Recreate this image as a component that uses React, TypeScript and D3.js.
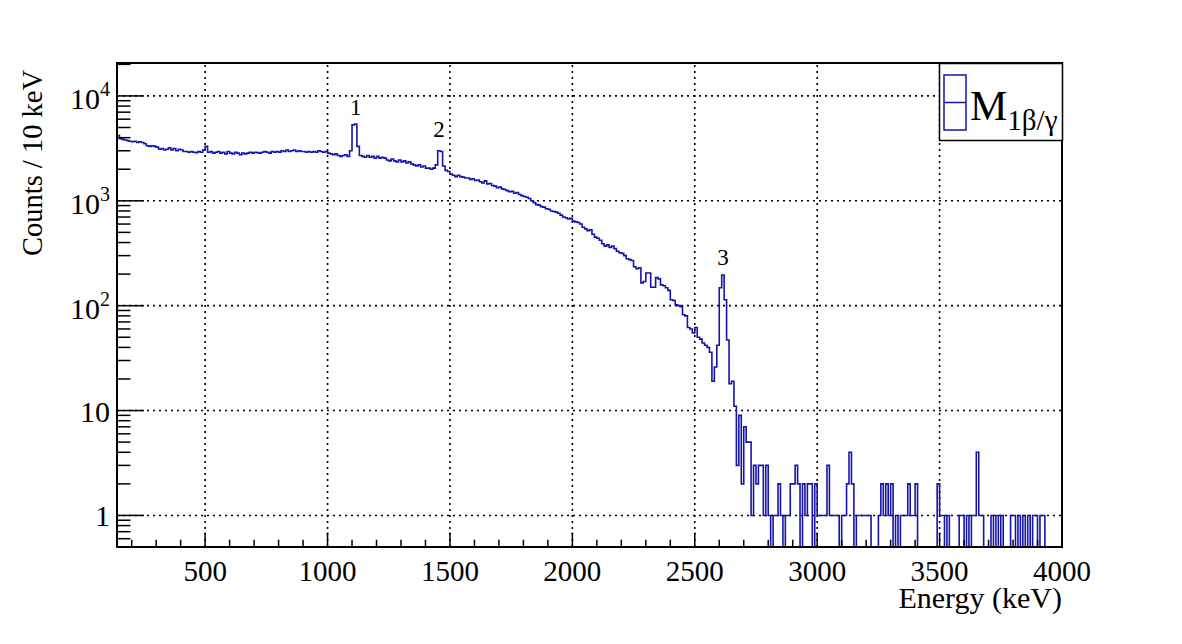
import { useEffect, useRef } from 'react';
import * as d3 from 'd3';

// histogram binning (keV)
const binStart = 140;
const binWidth = 10;

// counts per 10 keV bin, 140–1090 keV
const countsLow = [
  4200, 3900, 3850, 3800, 3750, 3700, 3650, 3700, 3600, 3650,
  3600, 3500, 3350, 3300, 3350, 3300, 3250, 3100, 3150, 3050,
  3100, 3200, 3050, 3150, 3000, 3100, 3050, 2950, 2950, 2900,
  2950, 2900, 2880, 2950, 2900, 3050, 3300, 2900, 2950, 2850,
  2900, 2950, 2850, 2900, 2800, 2950, 2850, 2800, 2900, 2850,
  2750, 2850, 2800, 2850, 2900, 2850, 2900, 2880, 2850, 2900,
  2950, 2900, 2850, 2950, 2900, 2950, 2900, 3000, 2950, 3050,
  2950, 3000, 3050, 2950, 3000, 2950, 2950, 2900, 2950, 2900,
  2950, 2900, 3000, 2950, 2900, 2950, 2850, 2800, 2750, 2800,
  2700, 2650, 2700, 2750, 2650, 3000,
];

// 1100–2090 keV
const countsMid = [
  5300, 5400, 3300, 2700, 2650, 2600, 2700, 2600, 2650, 2550,
  2650, 2550, 2600, 2550, 2450, 2400, 2500, 2400, 2350, 2450,
  2350, 2400, 2300, 2350, 2250, 2200, 2150, 2200, 2100, 2150,
  2050, 2050, 2000, 2050, 2200, 3000, 2950, 2150, 1950, 1900,
  1800, 1750, 1700, 1750, 1700, 1680, 1650, 1650, 1600, 1620,
  1560, 1580, 1520, 1480, 1550, 1450, 1460, 1400, 1380, 1330,
  1350, 1300, 1280, 1250, 1220, 1230, 1180, 1200, 1150, 1120,
  1100, 1080, 1050, 1000, 960, 920, 910, 880, 870, 840,
  830, 800, 790, 780, 760, 730, 700, 690, 670, 680,
  640, 630, 620, 600, 560, 540, 520, 530, 480, 450,
];

// 2100–2790 keV
const countsHigh = [
  440, 420, 390, 370, 380, 360, 370, 350, 330, 320,
  315, 300, 280, 275, 270, 235, 225, 230, 165, 170,
  205, 205, 150, 150, 185, 180, 158, 155, 148, 140,
  114, 112, 102, 100, 98, 82, 80, 62, 60, 55,
  62, 50, 48, 44, 42, 40, 36, 19, 26, 42,
  148, 196, 114, 47, 18, 19, 11, 3, 9, 2,
  7, 5, 5, 1, 3, 2, 3, 3, 1, 3,
];

// 2800–3990 keV
const countsTail = [
  1, 0, 1, 1, 2, 1, 0, 1, 1, 2,
  2, 3, 2, 0, 2, 1, 2, 2, 0, 2,
  1, 1, 1, 1, 3, 1, 1, 1, 1, 0,
  1, 1, 2, 4, 2, 0, 1, 1, 1, 1,
  1, 1, 0, 0, 0, 1, 2, 1, 2, 1,
  2, 0, 1, 0, 1, 1, 1, 2, 1, 1,
  2, 0, 0, 0, 0, 0, 0, 0, 0, 2,
  1, 1, 0, 1, 0, 0, 0, 0, 1, 1,
  0, 1, 0, 1, 1, 4, 1, 1, 0, 0,
  0, 1, 0, 1, 0, 1, 0, 0, 0, 1,
  1, 0, 1, 0, 1, 0, 1, 0, 1, 1,
  0, 1, 1, 0, 0, 0, 0, 0, 0, 0,
];

const xTicks = [500, 1000, 1500, 2000, 2500, 3000, 3500, 4000];
const yTicks = [1, 10, 100, 1000, 10000];
const yTickBase = ['1', '10', '10', '10', '10'];
const yTickExp = ['', '', '2', '3', '4'];

const peakLabels = ['1', '2', '3'];
const peakEnergy = [1115, 1455, 2615];
const peakLabelCounts = [6600, 4100, 245];

const W = 1182;
const H = 644;
const FONT = "'Liberation Serif', 'Times New Roman', serif";
const BLUE = '#1414ad';

const App = () => {
  const svgRef = useRef<SVGSVGElement>(null);

  useEffect(() => {
    if (!svgRef.current) return;
    const svg = d3.select(svgRef.current);
    svg.selectAll('*').remove();

    const margin = { top: 63, right: 120, bottom: 97, left: 117 };
    const x0 = margin.left;
    const x1 = W - margin.right;
    const y0 = H - margin.bottom;
    const y1 = margin.top;

    const counts = [...countsLow, ...countsMid, ...countsHigh, ...countsTail];

    const x = d3.scaleLinear().domain([binStart, 4000]).range([x0, x1]);
    const y = d3.scaleLog().domain([0.5, 20600]).range([y0, y1]);
    const yv = (c: number) => y(Math.max(c, 0.5));

    svg.append('rect').attr('width', W).attr('height', H).attr('fill', '#fff');

    // grid
    const grid = svg.append('g').attr('stroke', '#000').attr('stroke-width', 1.6)
      .attr('stroke-dasharray', '2,4');
    xTicks.filter(t => t < 4000).forEach(t => {
      grid.append('line').attr('x1', x(t)).attr('x2', x(t)).attr('y1', y0).attr('y2', y1);
    });
    yTicks.forEach(t => {
      grid.append('line').attr('x1', x0).attr('x2', x1).attr('y1', y(t)).attr('y2', y(t));
    });

    // histogram outline
    svg.append('clipPath').attr('id', 'frame-clip')
      .append('rect').attr('x', x0).attr('y', y1).attr('width', x1 - x0).attr('height', y0 - y1);
    let d = `M${x(binStart)},${yv(counts[0])}`;
    counts.forEach((c, i) => {
      const e1 = binStart + (i + 1) * binWidth;
      d += `H${x(e1)}`;
      if (i < counts.length - 1) d += `V${yv(counts[i + 1])}`;
    });
    svg.append('path').attr('d', d).attr('fill', 'none').attr('stroke', BLUE)
      .attr('stroke-width', 1.6).attr('clip-path', 'url(#frame-clip)');

    // frame
    svg.append('rect').attr('x', x0).attr('y', y1).attr('width', x1 - x0).attr('height', y0 - y1)
      .attr('fill', 'none').attr('stroke', '#000').attr('stroke-width', 2);

    // ticks
    const ticks = svg.append('g').attr('stroke', '#000').attr('stroke-width', 1.5);
    for (let t = 200; t < 4000; t += 100) {
      const len = t % 500 === 0 ? 14.5 : 7.3;
      ticks.append('line').attr('x1', x(t)).attr('x2', x(t)).attr('y1', y0).attr('y2', y0 - len);
    }
    const yMinor: number[] = [];
    for (let dec = -1; dec <= 4; dec++) {
      for (let k = 2; k <= 9; k++) {
        const v = k * Math.pow(10, dec);
        if (v > 0.5 && v < 20600) yMinor.push(v);
      }
    }
    yMinor.forEach(v => {
      ticks.append('line').attr('x1', x0).attr('x2', x0 + 13.5).attr('y1', y(v)).attr('y2', y(v));
    });
    yTicks.forEach(v => {
      ticks.append('line').attr('x1', x0).attr('x2', x0 + 27).attr('y1', y(v)).attr('y2', y(v));
    });

    // tick labels
    const labels = svg.append('g').attr('font-family', FONT).attr('fill', '#000');
    xTicks.forEach(t => {
      labels.append('text').attr('x', x(t)).attr('y', 581).attr('text-anchor', 'middle')
        .attr('font-size', 29).text(String(t));
    });
    yTicks.forEach((v, i) => {
      const txt = labels.append('text').attr('x', 110).attr('y', y(v) + (yTickExp[i] ? 13 : 11))
        .attr('text-anchor', 'end').attr('font-size', 30);
      txt.append('tspan').text(yTickBase[i]);
      if (yTickExp[i]) {
        txt.append('tspan').attr('dy', -13).attr('font-size', 20).text(yTickExp[i]);
      }
    });

    // axis titles
    labels.append('text').attr('x', x1).attr('y', 608).attr('text-anchor', 'end')
      .attr('font-size', 30).text('Energy (keV)');
    labels.append('text').attr('transform', 'translate(42,70) rotate(-90)')
      .attr('text-anchor', 'end').attr('font-size', 28.5).text('Counts / 10 keV');

    // peak labels
    peakLabels.forEach((l, i) => {
      labels.append('text').attr('x', x(peakEnergy[i])).attr('y', y(peakLabelCounts[i]))
        .attr('text-anchor', 'middle').attr('font-size', 23).text(l);
    });

    // legend
    const lg = svg.append('g');
    lg.append('rect').attr('x', 939.5).attr('y', 63.5).attr('width', 123).attr('height', 77)
      .attr('fill', '#fff').attr('stroke', '#000').attr('stroke-width', 1.5);
    lg.append('rect').attr('x', 944).attr('y', 75).attr('width', 22).attr('height', 55)
      .attr('fill', 'none').attr('stroke', BLUE).attr('stroke-width', 1.5);
    lg.append('line').attr('x1', 944).attr('x2', 966).attr('y1', 102.5).attr('y2', 102.5)
      .attr('stroke', BLUE).attr('stroke-width', 1.5);
    const lt = lg.append('text').attr('x', 970).attr('y', 120).attr('font-family', FONT)
      .attr('font-size', 42).attr('fill', '#000');
    lt.append('tspan').text('M');
    lt.append('tspan').attr('dy', 10).attr('font-size', 29).text('1β/γ');
  }, []);

  return (
    <svg
      ref={svgRef}
      width={W}
      height={H}
      style={{ position: 'absolute', left: 0, top: 0, display: 'block' }}
    />
  );
};

export default App;
